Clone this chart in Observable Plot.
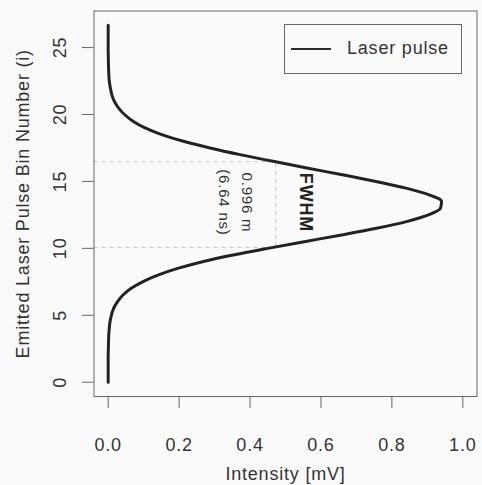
<!DOCTYPE html>
<html>
<head>
<meta charset="utf-8">
<script src="https://cdn.jsdelivr.net/npm/d3@7"></script>
<script src="https://cdn.jsdelivr.net/npm/@observablehq/plot@0.6"></script>
<style>
  html, body { margin: 0; padding: 0; background: #fafafa; }
  #wrap { position: relative; width: 482px; height: 485px; font-family: "Liberation Sans", Arial, Helvetica, sans-serif; }
  #legend { position: absolute; left: 284px; top: 24px; width: 176px; height: 48px; border: 1px solid #666; box-sizing: content-box; }
  #legend .swatch { position: absolute; left: 6px; top: 23px; width: 40px; height: 0; border-top: 2.6px solid #2a2a2a; }
  #legend .lab { position: absolute; left: 62px; top: 13px; font-size: 18px; letter-spacing: 0.8px; color: #333; white-space: nowrap; }
</style>
</head>
<body>
<div id="wrap"></div>
<script>
// Emitted laser pulse: bin number (y) vs intensity in mV (x)
const binNumber = [0, 0.5, 1, 1.5, 2, 2.5, 3, 3.5, 4, 4.5, 5, 5.5, 6, 6.5, 7, 7.5, 8, 8.5, 9, 9.5,
  10, 10.5, 11, 11.5, 12, 12.5, 13, 13.5, 14, 14.5, 15, 15.5, 16, 16.5, 17, 17.5, 18, 18.5, 19, 19.5,
  20, 20.5, 21, 21.5, 22, 22.5, 23, 23.5, 24, 24.5, 25, 25.5, 26, 26.5, 26.66];
const intensity = [0, 0, 0, 0, 0, 0.0005, 0.001, 0.0015, 0.003, 0.005, 0.009, 0.015, 0.026, 0.041, 0.064, 0.097, 0.140, 0.196, 0.266, 0.352,
  0.450, 0.553, 0.658, 0.757, 0.841, 0.903, 0.937, 0.940, 0.905, 0.840, 0.755, 0.660, 0.560, 0.465, 0.372, 0.287, 0.212, 0.151, 0.104, 0.070,
  0.046, 0.029, 0.017, 0.010, 0.006, 0.003, 0.0018, 0.001, 0.0005, 0.0002, 0, 0, 0, 0, 0];

const xTicks = [0, 0.2, 0.4, 0.6, 0.8, 1.0];
const yTicks = [0, 5, 10, 15, 20, 25];

// FWHM markers
const halfMax = 0.472;
const fwhmBins = [10.07, 16.47];
const annoText = ["0.996 m", "(6.64 ns)"];
const annoX = [0.392, 0.326];
const annoY = [13.43, 13.43];
const fwhmLabel = "FWHM";
const fwhmLabelX = 0.558;

const xDomain = [-0.04, 1.04];
const yDomain = [-1.066, 27.73];

const pulse = binNumber.map((b, i) => ({bin: b, val: intensity[i]}));
const annos = annoText.map((t, i) => ({t, x: annoX[i], y: annoY[i]}));

const font = "Liberation Sans, Arial, Helvetica, sans-serif";

const chart = Plot.plot({
  width: 482,
  height: 485,
  marginLeft: 93.5,
  marginRight: 5.5,
  marginTop: 10.5,
  marginBottom: 89,
  style: {background: "transparent", fontFamily: font, color: "#333"},
  x: {domain: xDomain},
  y: {domain: yDomain},
  marks: [
    Plot.ruleY(fwhmBins, {y: d => d, x1: xDomain[0], x2: halfMax, stroke: "#c4c4c4", strokeWidth: 1, strokeDasharray: "4,4"}),
    Plot.ruleX([halfMax], {x: d => d, y1: fwhmBins[0], y2: fwhmBins[1], stroke: "#c4c4c4", strokeWidth: 1, strokeDasharray: "4,4"}),
    Plot.line(pulse, {x: "val", y: "bin", curve: "monotone-y", stroke: "#222", strokeWidth: 3}),
    Plot.text(annos, {x: "x", y: "y", text: "t", rotate: 90, fontSize: 15, fill: "#333", textAnchor: "middle", lineAnchor: "middle"}),
    Plot.text([fwhmLabel], {x: fwhmLabelX, y: annoY[0], text: d => d, rotate: 90, fontSize: 18, fontWeight: "bold", fill: "#222", textAnchor: "middle", lineAnchor: "middle"}),
    Plot.frame({stroke: "#666", strokeWidth: 1}),
    Plot.axisX({ticks: xTicks, tickSize: 12, tickFormat: () => "", stroke: "#666"}),
    Plot.axisY({ticks: yTicks, tickSize: 11.5, tickFormat: () => "", stroke: "#666"}),
    Plot.text(xTicks, {x: d => d, frameAnchor: "bottom", dy: 49, text: d => d3.format(".1f")(d), fontSize: 18, fill: "#333", lineAnchor: "middle", textAnchor: "middle"}),
    Plot.text(yTicks, {y: d => d, frameAnchor: "left", dx: -34, text: d => String(d), rotate: -90, fontSize: 18, fill: "#333", lineAnchor: "middle", textAnchor: "middle"}),
    Plot.text(["Intensity [mV]"], {frameAnchor: "bottom", dy: 78, text: d => d, fontSize: 18, fill: "#333", lineAnchor: "middle", textAnchor: "middle"}),
    Plot.text(["Emitted Laser Pulse Bin Number (i)"], {frameAnchor: "left", dx: -71, text: d => d, rotate: -90, fontSize: 18, fill: "#333", lineAnchor: "middle", textAnchor: "middle"})
  ]
});

d3.select(chart).selectAll("text").style("letter-spacing", "0.8px");

const wrap = document.getElementById("wrap");
wrap.appendChild(chart);
const legend = document.createElement("div");
legend.id = "legend";
legend.innerHTML = '<div class="swatch"></div><div class="lab">Laser pulse</div>';
wrap.appendChild(legend);
</script>
</body>
</html>
